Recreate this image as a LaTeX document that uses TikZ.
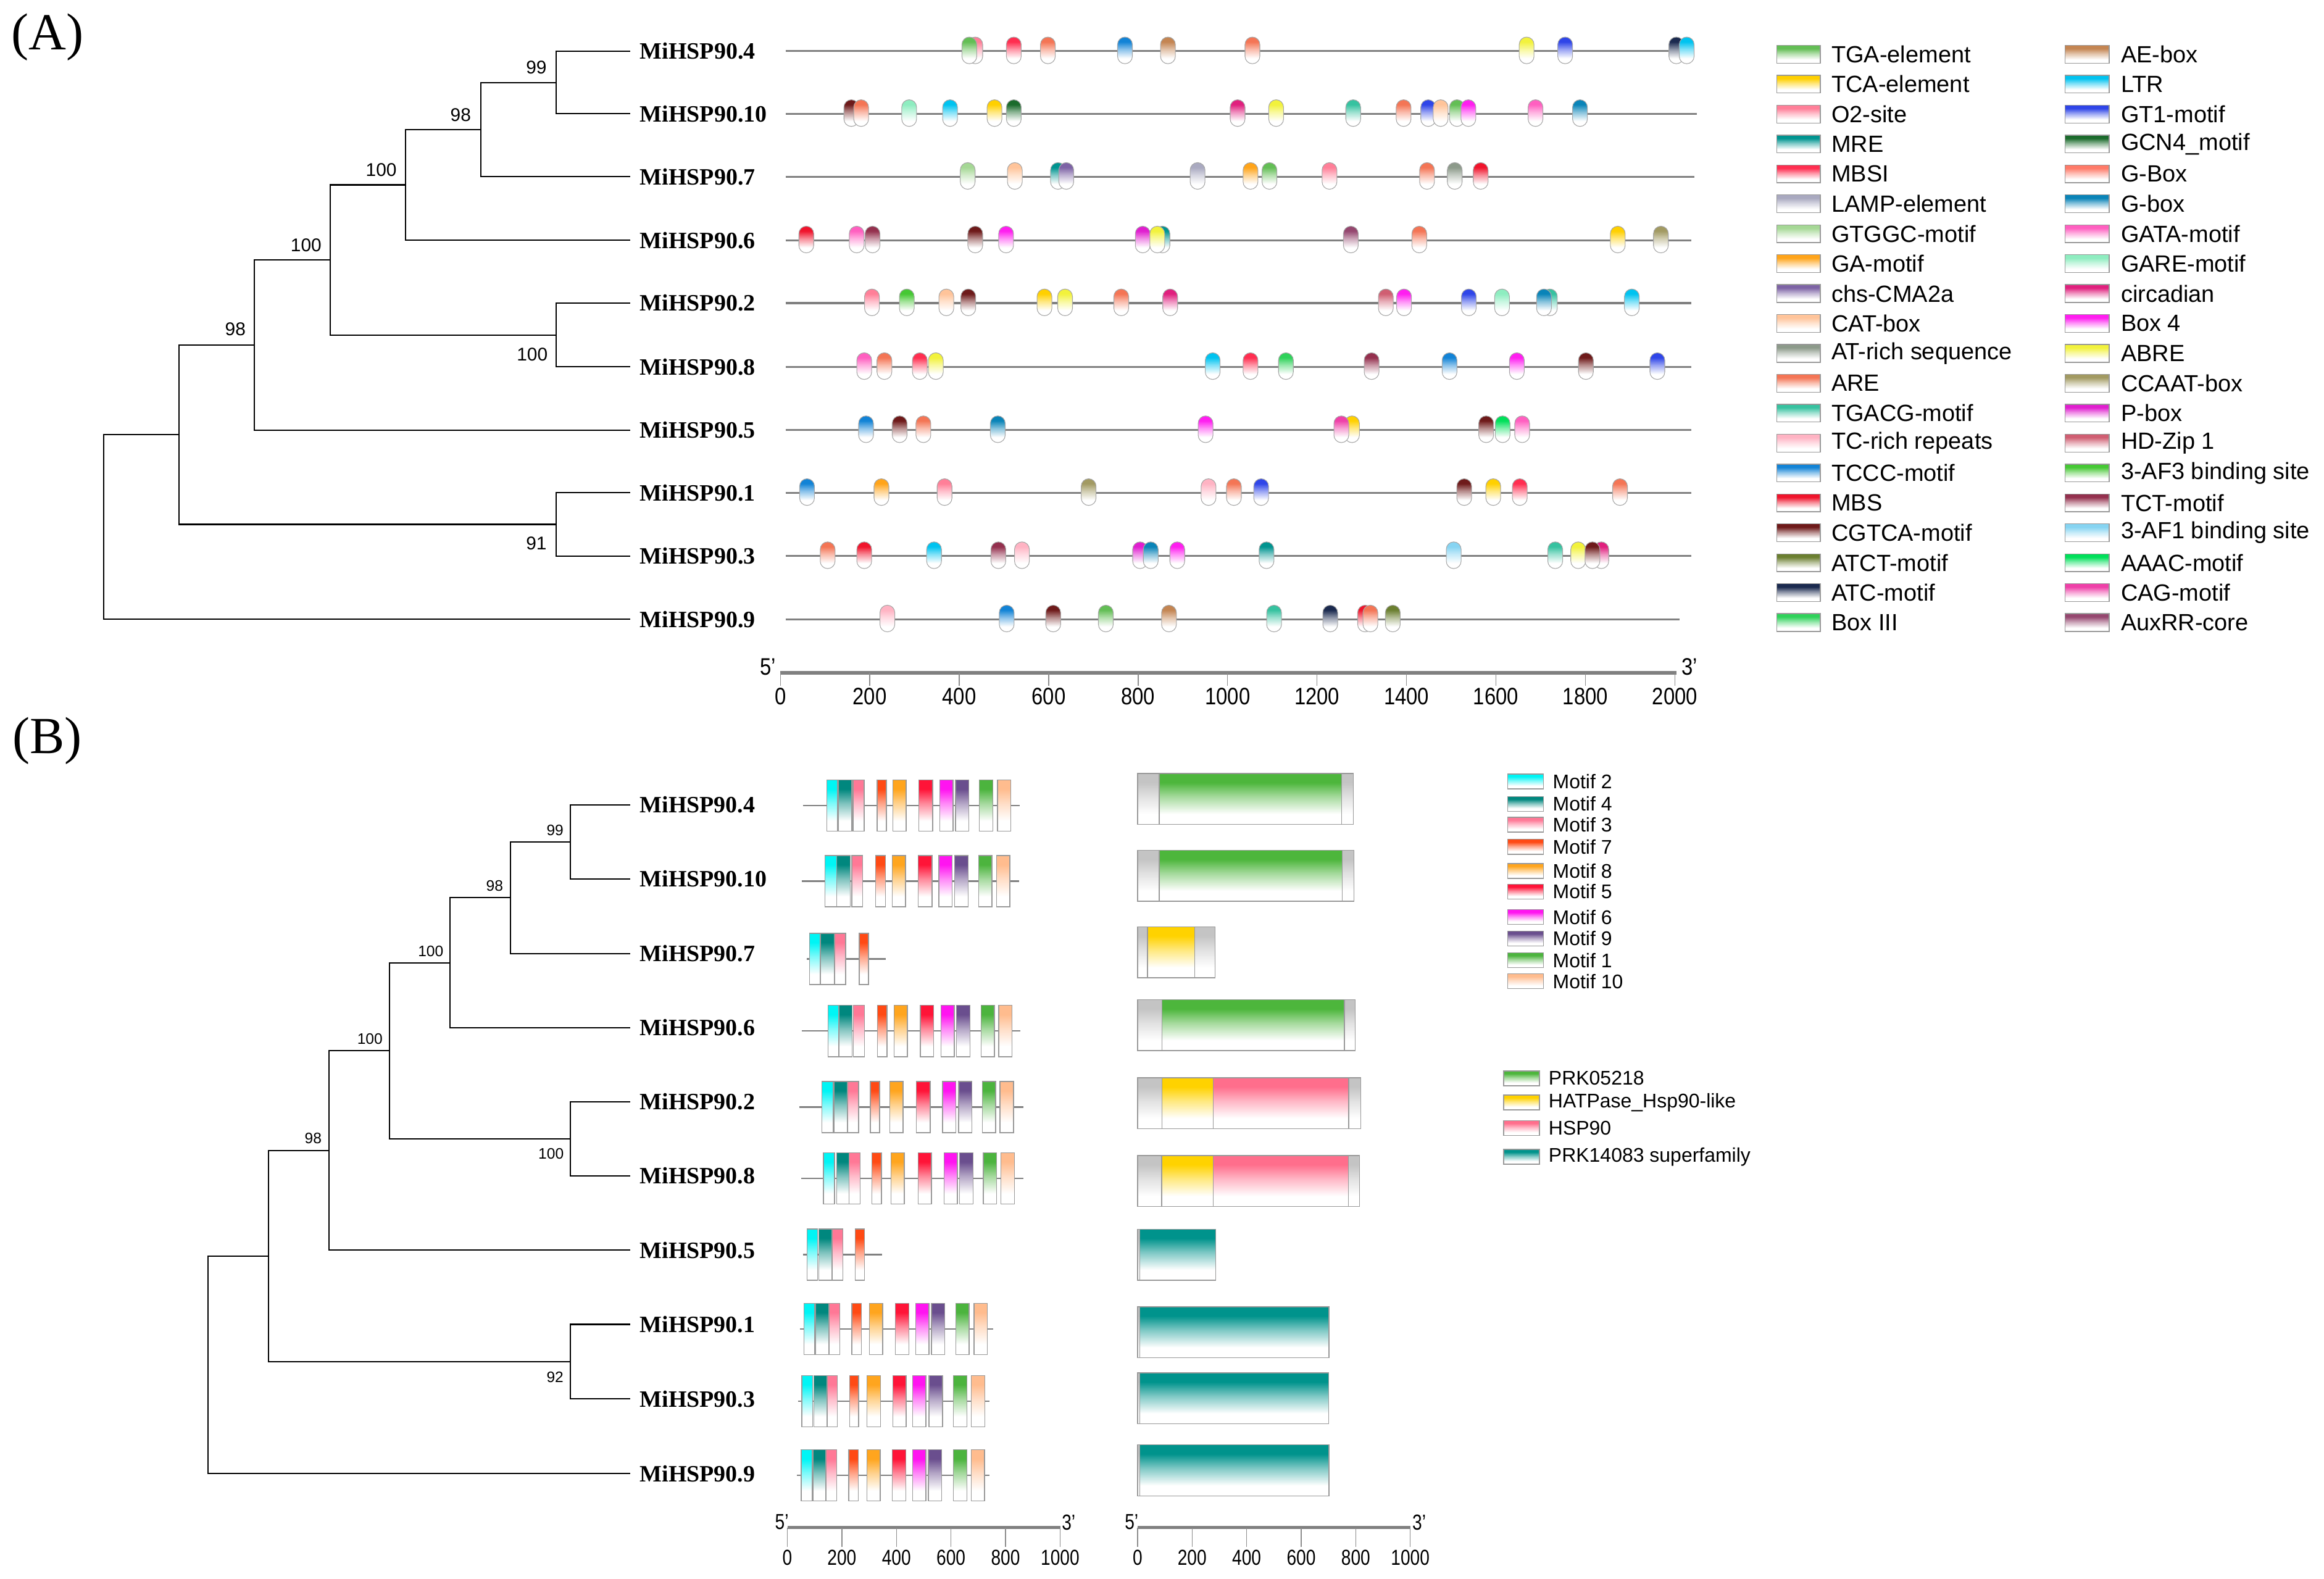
\documentclass[tikz,border=0pt]{standalone}
\usepackage{fontspec}
\setmainfont{Liberation Serif}
\setsansfont{Liberation Sans}
\usetikzlibrary{positioning}
% cis-element colours
\definecolor{tga}{HTML}{63BE55}
\definecolor{tca}{HTML}{FFD000}
\definecolor{otwo}{HTML}{FF7F98}
\definecolor{mre}{HTML}{009490}
\definecolor{mbsi}{HTML}{FF2E50}
\definecolor{lamp}{HTML}{A9A9C0}
\definecolor{gtggc}{HTML}{A5D895}
\definecolor{gamot}{HTML}{FFA41A}
\definecolor{chs}{HTML}{7D63A5}
\definecolor{catbox}{HTML}{FFC49A}
\definecolor{atrich}{HTML}{8C9A8A}
\definecolor{are}{HTML}{F47555}
\definecolor{tgacg}{HTML}{36C2A0}
\definecolor{tcrich}{HTML}{FFB3C3}
\definecolor{tccc}{HTML}{1283D6}
\definecolor{mbs}{HTML}{F0142C}
\definecolor{cgtca}{HTML}{6E1A1A}
\definecolor{atct}{HTML}{6B7F30}
\definecolor{atc}{HTML}{1B2A4F}
\definecolor{boxiii}{HTML}{2FD25A}
\definecolor{aebox}{HTML}{C48552}
\definecolor{ltr}{HTML}{00C3F0}
\definecolor{gtone}{HTML}{2F45E8}
\definecolor{gcnfour}{HTML}{1B6B2C}
\definecolor{gbig}{HTML}{FF7A68}
\definecolor{gbox}{HTML}{0A84B8}
\definecolor{gata}{HTML}{FF5FC0}
\definecolor{gare}{HTML}{8EEDC0}
\definecolor{circ}{HTML}{E0207E}
\definecolor{boxfour}{HTML}{FF1EF0}
\definecolor{abre}{HTML}{F2F23C}
\definecolor{ccaat}{HTML}{A29A62}
\definecolor{pbox}{HTML}{E01ECF}
\definecolor{hdzip}{HTML}{D05E72}
\definecolor{afthree}{HTML}{46C834}
\definecolor{tct}{HTML}{94304E}
\definecolor{afone}{HTML}{86D4F2}
\definecolor{aaac}{HTML}{00E05A}
\definecolor{cag}{HTML}{EF40A8}
\definecolor{auxrr}{HTML}{95476F}
% motif colours, in legend order
\definecolor{mc1}{HTML}{00F5F5}
\definecolor{mc2}{HTML}{00877E}
\definecolor{mc3}{HTML}{FF7896}
\definecolor{mc4}{HTML}{FF4A14}
\definecolor{mc5}{HTML}{FFA51E}
\definecolor{mc6}{HTML}{FF1438}
\definecolor{mc7}{HTML}{FF14F0}
\definecolor{mc8}{HTML}{6A4E8E}
\definecolor{mc9}{HTML}{4CB43E}
\definecolor{mc10}{HTML}{FFBC8E}
% domain colours
\definecolor{dprk}{HTML}{4DB63C}
\definecolor{dhat}{HTML}{FFD200}
\definecolor{dhsp}{HTML}{FF6E8C}
\definecolor{dteal}{HTML}{00938C}
\definecolor{dgray}{HTML}{C4C4C4}
\colorlet{cc}{white}
\pgfdeclareverticalshading[cc]{fadecap}{100bp}{color(0bp)=(white); color(35bp)=(white); color(52bp)=(cc!50!white); color(66bp)=(cc); color(100bp)=(cc)}

\tikzstyle{leaf} = [font=\fontsize{10.8}{12}\selectfont\bfseries, inner sep=0pt]
\tikzstyle{boot} = [font=\sffamily\fontsize{8.5}{9}\selectfont, inner sep=0pt]
\tikzstyle{bootb} = [font=\sffamily\fontsize{7}{8}\selectfont, inner sep=0pt]
\tikzstyle{branch} = [draw, line width=0.6pt]
\tikzstyle{track} = [draw=black!50, line width=0.9pt]
\tikzstyle{crebox} = [shade, shading=fadecap, draw=black!35, line width=0.3pt, rounded corners=1.2mm]
\tikzstyle{motbox} = [shade, shading=fadecap, draw=black!40, line width=0.4pt]
\tikzstyle{legtxt} = [font=\sffamily\fontsize{10.8}{12}\selectfont, inner sep=0pt, anchor=west]
\tikzstyle{legtxtb} = [font=\sffamily\fontsize{9.1}{10}\selectfont, inner sep=0pt, anchor=west]
\tikzstyle{num} = [font=\sffamily\fontsize{11}{12}\selectfont, inner sep=0pt]
\tikzstyle{numb} = [font=\sffamily\fontsize{10}{11}\selectfont, inner sep=0pt]
\tikzstyle{axisline} = [draw=black!50, line width=1.8pt]
\tikzstyle{tick} = [draw=black!45, line width=0.4pt]

\begin{document}
\begin{tikzpicture}[x=0.024012cm, y=-0.024012cm]
  \useasboundingbox (0,0) rectangle (1568,1065);
  \node (pa) at (32,25) {\fontsize{24}{26}\selectfont (A)};
  \node (pb) at (32,500) {\fontsize{24}{26}\selectfont (B)};

  % (A) tree
  \coordinate (t4) at (425.4,34.5);
  \coordinate (t10) at (425.4,76.8);
  \coordinate (t7) at (425.4,119.2);
  \coordinate (t6) at (425.4,162.1);
  \coordinate (t2) at (425.4,204.5);
  \coordinate (t8) at (425.4,247.5);
  \coordinate (t5) at (425.4,290.1);
  \coordinate (t1) at (425.4,332.5);
  \coordinate (t3) at (425.4,375.1);
  \coordinate (t9) at (425.4,417.8);
  \coordinate (a1) at (375.3,55.65);
  \coordinate (a2) at (324.6,87.4);
  \coordinate (a3) at (273.5,124.75);
  \coordinate (a28) at (375.3,226);
  \coordinate (a4) at (222.7,175.4);
  \coordinate (a5) at (171.6,232.75);
  \coordinate (a13) at (375.3,353.8);
  \coordinate (a6) at (120.9,293.3);
  \coordinate (ar) at (70.1,355.5);
  \draw[branch] (a1) |- (t4);  \draw[branch] (a1) |- (t10);
  \draw[branch] (a2) |- (a1);  \draw[branch] (a2) |- (t7);
  \draw[branch] (a3) |- (a2);  \draw[branch] (a3) |- (t6);
  \draw[branch] (a28) |- (t2); \draw[branch] (a28) |- (t8);
  \draw[branch] (a4) |- (a3);  \draw[branch] (a4) |- (a28);
  \draw[branch] (a5) |- (a4);  \draw[branch] (a5) |- (t5);
  \draw[branch] (a13) |- (t1); \draw[branch] (a13) |- (t3);
  \draw[branch] (a6) |- (a5);  \draw[branch] (a6) |- (a13);
  \draw[branch] (ar) |- (a6);  \draw[branch] (ar) |- (t9);
  \foreach \g in {4,10,7,6,2,8,5,1,3,9}
    \node (l\g) [leaf, right=4.2pt of t\g, anchor=west] {MiHSP90.\g};
  \node (ba1) [boot] at (361.9,45.3) {99};
  \node (ba2) [boot] at (310.8,77.4) {98};
  \node (ba3) [boot] at (257.2,114.8) {100};
  \node (ba4) [boot] at (206.5,165.6) {100};
  \node (ba5) [boot] at (158.8,222) {98};
  \node (ba6) [boot] at (359.1,239) {100};
  \node (ba7) [boot] at (361.9,366.7) {91};

  % (A) promoter elements
  \foreach \y/\e/\cl in {
    34.5/1143/{658/otwo,654/tga,684/mbsi,707/are,759/tccc,788/aebox,845/are,1030/abre,1056/gtone,1131/atc,1138/ltr},
    76.8/1145/{574.4/cgtca,581/are,613.4/gare,641/ltr,671/tca,684/gcnfour,835/circ,861/abre,913/tgacg,947/are,963.6/gtone,972/catbox,983/tga,990.7/boxfour,1036/gata,1066/gbox},
    119.2/1143/{652.9/gtggc,684.7/catbox,713.8/mre,719.4/chs,808/lamp,843.7/gamot,856.5/tga,897/otwo,962.8/are,981.5/atrich,999/mbs},
    162.1/1141/{544/mbs,578/gata,588.7/tct,658/cgtca,678.8/boxfour,784.3/mre,771/pbox,780.8/abre,911.4/auxrr,957.6/are,1091.5/tca,1120.6/ccaat},
    204.5/1141/{588.3/otwo,611.8/afthree,638.5/catbox,653.3/cgtca,704.7/tca,718.6/abre,756.5/are,789.5/circ,935/hdzip,947.3/boxfour,991/gtone,1013.4/gare,1045.7/tgacg,1041.7/gbox,1101/ltr},
    247.5/1141/{583.1/gata,596.7/are,620.6/mbsi,631.4/abre,818.2/ltr,843.7/mbsi,867.6/boxiii,925.4/tct,978/tccc,1023.4/boxfour,1070/cgtca,1118.2/gtone},
    290.1/1141/{584.3/tccc,607/cgtca,623/are,673.2/gbox,813.4/boxfour,912.2/tca,905/cag,1002.7/cgtca,1013.8/aaac,1027/gata},
    332.5/1141/{544.5/tccc,594.7/gamot,637.3/otwo,734.5/ccaat,815.4/tcrich,832.5/are,850.9/gtone,987.9/cgtca,1007.5/tca,1025.4/mbsi,1093/are},
    375.1/1141/{558.4/are,583.1/mbs,630.2/ltr,673.6/tct,689.5/tcrich,769.2/pbox,776.4/gbox,794.3/boxfour,854.5/mre,980.8/afone,1049.3/tgacg,1064.8/abre,1080.4/circ,1074.4/cgtca},
    417.8/1133/{598.7/tcrich,679.2/tccc,710.6/cgtca,746.1/tga,788.7/aebox,859.6/tgacg,897.5/atc,921/mbs,924.6/are,939.7/atct}} {
    \draw[track] (530,\y) -- (\e,\y);
    \foreach \x/\c in \cl {
      \colorlet{cc}{\c}
      \path[crebox] (\x-5,\y-9.5) rectangle (\x+5,\y+8.5);
    }
  }

  % (A) scale
  \draw[axisline] (526.5,454) -- (1131,454);
  \foreach \v [count=\i from 0] in {0,200,...,2000} {
    \draw[tick] (526.5+60.35*\i,454) -- (526.5+60.35*\i,462.5);
    \node (na\i) [num] at (526.5+60.35*\i,470) {\scalebox{0.85}[1]{\v}};
  }
  \node (fa) [num] at (518,450) {\scalebox{0.85}[1]{5'}};
  \node (ta) [num] at (1140,450) {\scalebox{0.85}[1]{3'}};

  % (A) legend
  \foreach \t/\c [count=\i from 0] in {TGA-element/tga, TCA-element/tca, O2-site/otwo, MRE/mre, MBSI/mbsi, LAMP-element/lamp, GTGGC-motif/gtggc, GA-motif/gamot, chs-CMA2a/chs, CAT-box/catbox, AT-rich sequence/atrich, ARE/are, TGACG-motif/tgacg, TC-rich repeats/tcrich, TCCC-motif/tccc, MBS/mbs, CGTCA-motif/cgtca, ATCT-motif/atct, ATC-motif/atc, Box III/boxiii} {
    \colorlet{cc}{\c}
    \path[motbox] (1198.9,36.6+20.18*\i-6) rectangle (1228.2,36.6+20.18*\i+6);
    \node (lga\i) [legtxt] at (1235.4,36.6+20.18*\i) {\t};
  }
  \foreach \t/\c [count=\i from 0] in {AE-box/aebox, LTR/ltr, GT1-motif/gtone, GCN4\_motif/gcnfour, G-Box/gbig, G-box/gbox, GATA-motif/gata, GARE-motif/gare, circadian/circ, Box 4/boxfour, ABRE/abre, CCAAT-box/ccaat, P-box/pbox, HD-Zip 1/hdzip, 3-AF3 binding site/afthree, TCT-motif/tct, 3-AF1 binding site/afone, AAAC-motif/aaac, CAG-motif/cag, AuxRR-core/auxrr} {
    \colorlet{cc}{\c}
    \path[motbox] (1393.2,36.6+20.18*\i-6) rectangle (1423,36.6+20.18*\i+6);
    \node (lgb\i) [legtxt] at (1430.7,36.6+20.18*\i) {\t};
  }

  % (B) tree
  \coordinate (u4) at (425.3,543);
  \coordinate (u10) at (425.3,593);
  \coordinate (u7) at (425.3,643.3);
  \coordinate (u6) at (425.3,693.4);
  \coordinate (u2) at (425.3,743.4);
  \coordinate (u8) at (425.3,793.4);
  \coordinate (u5) at (425.3,843.4);
  \coordinate (u1) at (425.3,893.5);
  \coordinate (u3) at (425.3,943.8);
  \coordinate (u9) at (425.3,994.2);
  \coordinate (b1) at (384.9,568);
  \coordinate (b2) at (344.3,605.65);
  \coordinate (b3) at (303.7,649.5);
  \coordinate (b28) at (384.9,768.4);
  \coordinate (b4) at (262.9,708.96);
  \coordinate (b5) at (222,776.2);
  \coordinate (b13) at (384.9,918.65);
  \coordinate (b6) at (181.2,847.4);
  \coordinate (br) at (140.4,920.8);
  \draw[branch] (b1) |- (u4);  \draw[branch] (b1) |- (u10);
  \draw[branch] (b2) |- (b1);  \draw[branch] (b2) |- (u7);
  \draw[branch] (b3) |- (b2);  \draw[branch] (b3) |- (u6);
  \draw[branch] (b28) |- (u2); \draw[branch] (b28) |- (u8);
  \draw[branch] (b4) |- (b3);  \draw[branch] (b4) |- (b28);
  \draw[branch] (b5) |- (b4);  \draw[branch] (b5) |- (u5);
  \draw[branch] (b13) |- (u1); \draw[branch] (b13) |- (u3);
  \draw[branch] (b6) |- (b5);  \draw[branch] (b6) |- (b13);
  \draw[branch] (br) |- (b6);  \draw[branch] (br) |- (u9);
  \foreach \g in {4,10,7,6,2,8,5,1,3,9}
    \node (m\g) [leaf, right=4.2pt of u\g, anchor=west] {MiHSP90.\g};
  \node (bb1) [bootb] at (374.5,560) {99};
  \node (bb2) [bootb] at (333.7,597.7) {98};
  \node (bb3) [bootb] at (290.6,641.8) {100};
  \node (bb4) [bootb] at (249.6,700.8) {100};
  \node (bb5) [bootb] at (211.3,768) {98};
  \node (bb6) [bootb] at (371.8,778.5) {100};
  \node (bb7) [bootb] at (374.5,929.2) {92};

  % (B) motifs
  \foreach \yc/\la/\lb/\bx in {
    543.5/541.8/687.9/{557.8/565.2,565.7/574.8,575.6/583,591.8/598.1,602.4/611.4,619.9/629.2,634/643,644.6/653.6,660.8/669.8,673/682},
    594.5/541/687.4/{556.7/564.4,564.4/573.7,574.8/581.9,590.7/597.3,601.9/610.9,619.4/628.9,633.5/642.5,644.1/653.1,660.3/669.3,672.5/681.3},
    647/544.5/597.6/{546.1/553.2,553.8/563.1,563.1/570.5,579.8/585.9},
    695.6/541/688.4/{558.6/565.7,566.3/575,575.8/583.3,592/598.4,603.2/612.2,621/630,634.8/643.8,645.4/654.4,661.9/670.9,673.8/682.9},
    746.9/539.2/690.6/{554.6/562.3,562.8/571.8,571.8/579.3,587.2/593.4,600.3/609.3,618.3/627.6,635.9/644.9,646.7/655.8,662.7/671.7,674.6/683.9},
    795/540.5/690.6/{555.6/563.1,564.4/572.9,572.9/580.3,588.3/594.7,601.1/610.1,619.4/628.4,636.9/645.9,647.5/656.6,663.5/672.5,675.4/684.5},
    846.5/541.8/595/{544.5/551.7,552.5/561.2,561.7/568.7,576.9/583.3},
    896.6/539.7/670.1/{542.4/549.8,550.3/559.1,559.4/566.5,574.8/581.1,586.7/595.5,604.2/613.3,617.8/626.8,628.4/637.4,644.9/653.9,657.1/666.1},
    945.3/538.4/667.5/{541/548.2,549/557.8,558/564.9,573.2/579.3,584.9/594.2,602.4/611.4,615.7/624.7,626.8/635.9,643.3/652.3,655.2/664.5},
    995.4/537.8/667.5/{540.5/547.9,548.5/557.2,557.5/564.4,572.6/579,584.9/593.9,602.1/611.1,615.7/624.7,626.3/635.3,643.3/652.3,655.2/664.3}} {
    \draw[track, line width=0.7pt] (\la,\yc) -- (\lb,\yc);
    \foreach \xa/\xb [count=\k] in \bx {
      \colorlet{cc}{mc\k}
      \path[motbox] (\xa,\yc-17.3) rectangle (\xb,\yc+17.3);
    }
  }

  % (B) domains
  \foreach \yc/\dl in {
    539/{767.5/782.2/dgray,782.2/905.2/dprk,905.2/913/dgray},
    590.8/{767.5/782.2/dgray,782.2/905.5/dprk,905.5/913.6/dgray},
    642.5/{767.5/774.2/dgray,774.2/806.1/dhat,806.1/819.9/dgray},
    691.7/{767.5/784/dgray,784/907/dprk,907/914.4/dgray},
    744.3/{767.5/784/dgray,784/818.6/dhat,818.6/910/dhsp,910/918.2/dgray},
    796.8/{767.5/783.8/dgray,783.8/818.6/dhat,818.6/909.7/dhsp,909.7/917.2/dgray},
    846.5/{767.5/769/dgray,769/820.2/dteal},
    898.9/{767.5/769/dgray,769/896.7/dteal},
    943.4/{767.5/769/dgray,769/896.5/dteal},
    992/{767.5/769/dgray,769/896.7/dteal}} {
    \foreach \xa/\xb/\c in \dl {
      \colorlet{cc}{\c}
      \path[motbox] (\xa,\yc-17.2) rectangle (\xb,\yc+17.2);
    }
  }

  % (B) scales
  \draw[axisline, line width=1.4pt] (531.2,1030.6) -- (715.3,1030.6);
  \draw[axisline, line width=1.4pt] (767.5,1030.6) -- (951.5,1030.6);
  \foreach \v [count=\i from 0] in {0,200,...,1000} {
    \draw[tick] (531.2+36.81*\i,1030.6) -- (531.2+36.81*\i,1043.5);
    \node (nb\i) [numb] at (531.2+36.81*\i,1051) {\scalebox{0.8}[1]{\v}};
    \draw[tick] (767.5+36.8*\i,1030.6) -- (767.5+36.8*\i,1043.5);
    \node (nc\i) [numb] at (767.5+36.8*\i,1051) {\scalebox{0.8}[1]{\v}};
  }
  \node (fb) [numb] at (527.5,1027) {\scalebox{0.8}[1]{5'}};
  \node (tb) [numb] at (721,1027) {\scalebox{0.8}[1]{3'}};
  \node (fc) [numb] at (763.5,1027) {\scalebox{0.8}[1]{5'}};
  \node (tc) [numb] at (957.5,1027) {\scalebox{0.8}[1]{3'}};

  % (B) legends
  \foreach \n/\yy [count=\k] in {2/527.2,4/542.4,3/556.4,7/571.3,8/587.6,5/601.6,6/618.7,9/633.2,1/647.9,10/662} {
    \colorlet{cc}{mc\k}
    \path[motbox] (1017.3,\yy-5) rectangle (1041.4,\yy+5);
    \node (lm\k) [legtxtb] at (1047.4,\yy) {Motif \n};
  }
  \foreach \t/\c/\yy [count=\k] in {PRK05218/dprk/727.5, HATPase\_Hsp90-like/dhat/743.8, HSP90/dhsp/761, PRK14083 superfamily/dteal/780.5} {
    \colorlet{cc}{\c}
    \path[motbox] (1014.5,\yy-5) rectangle (1038.7,\yy+5);
    \node (ld\k) [legtxtb] at (1044.6,\yy) {\t};
  }
\end{tikzpicture}
\end{document}
